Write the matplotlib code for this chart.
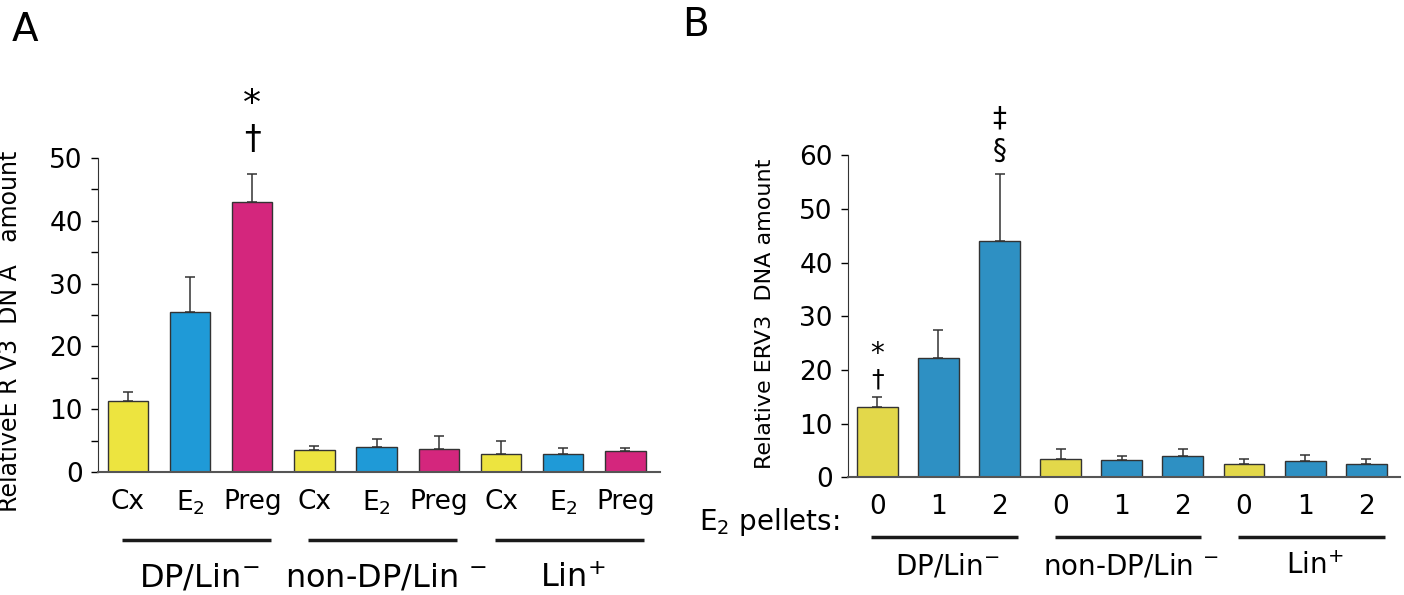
import numpy as np
import matplotlib.pyplot as plt
import matplotlib.transforms as mtransforms

# Panel A: relative ERV3 DNA amount by treatment
groups = ["DP/Lin$^{-}$", "non-DP/Lin $^{-}$", "Lin$^{+}$"]
a_labels = ["Cx", "E$_{2}$", "Preg"] * 3
a_values = [11.3, 25.5, 43.0, 3.5, 4.0, 3.7, 2.8, 2.8, 3.3]
a_err = [1.5, 5.5, 4.5, 0.7, 1.2, 2.0, 2.2, 1.0, 0.5]

# Panel B: E2 pellets
b_labels = ["0", "1", "2"] * 3
b_values = [13.0, 22.2, 44.0, 3.4, 3.2, 4.0, 2.4, 3.0, 2.4]
b_err = [2.0, 5.3, 12.5, 1.8, 0.8, 1.2, 0.9, 1.1, 0.9]

a_colors = ["#EDE43F", "#1F9AD7", "#D4267D"] * 3
b_colors = ["#E3D84A", "#2E90C3", "#2E90C3"] * 3

plt.rcParams['font.family'] = ['DejaVu Sans Condensed', 'Liberation Sans Narrow', 'DejaVu Sans']
plt.rcParams['mathtext.fontset'] = 'custom'
plt.rcParams['mathtext.rm'] = 'DejaVu Sans Condensed'

fig = plt.figure(figsize=(14.04, 5.95), dpi=100)
axA = fig.add_axes([0.0698, 0.2067, 0.400, 0.528])
axB = fig.add_axes([0.604, 0.198, 0.393, 0.541])


def draw_panel(ax, values, err, colors, labels, width, ymax, tick_step, minor):
    x = np.arange(len(values))
    ax.bar(x, values, width=width, color=colors, edgecolor="#333333", linewidth=1.0, zorder=2)
    ax.errorbar(x, values, yerr=[np.zeros(len(err)), err], fmt="none", ecolor="#333333",
                elinewidth=1.1, capsize=3.5, capthick=1.1, zorder=1)
    ax.set_ylim(0, ymax)
    ax.set_xlim(-0.48, len(values) - 0.45)
    ax.set_yticks(np.arange(0, ymax + 1, tick_step))
    if minor:
        ax.set_yticks(np.arange(5, ymax, 10), minor=True)
    ax.tick_params(axis="y", direction="out", length=5, width=1, labelsize=19, pad=6)
    ax.tick_params(axis="y", which="minor", direction="out", length=5, width=1)
    ax.set_xticks(x)
    ax.set_xticklabels(labels, fontsize=19)
    ax.tick_params(axis="x", length=0, pad=12)
    for s in ["top", "right"]:
        ax.spines[s].set_visible(False)
    ax.spines["left"].set_color("#333333")
    ax.spines["bottom"].set_color("#555555")
    ax.spines["bottom"].set_linewidth(1.5)


draw_panel(axA, a_values, a_err, a_colors, a_labels, 0.65, 50, 10, True)
draw_panel(axB, b_values, b_err, b_colors, b_labels, 0.67, 60, 10, False)

axA.set_ylabel("RelativeE R V3  DN A   amount", fontsize=17)
axA.yaxis.set_label_coords(-0.135, 0.449)
axB.set_ylabel("Relative ERV3  DNA amount", fontsize=16)
axB.yaxis.set_label_coords(-0.132, 0.506)

# group lines and labels
for ax, line_y, text_y, fs in [(axA, -0.217, -0.338, 23), (axB, -0.186, -0.277, 20)]:
    trans = mtransforms.blended_transform_factory(ax.transData, ax.transAxes)
    for g, name in enumerate(groups):
        ax.plot([3 * g - 0.1, 3 * g + 2.3], [line_y, line_y], color="#1a1a1a", lw=2.5,
                transform=trans, clip_on=False, solid_capstyle="butt")
        ax.text(3 * g + 1.15, text_y, name, fontsize=fs, ha="center", va="center",
                transform=trans)

# significance markers
axA.text(2, a_values[2] + a_err[2] + 5.4, "\u2020", fontsize=24, ha="center", va="center")
axA.text(2, a_values[2] + a_err[2] + 11.0, "*", fontsize=26, ha="center", va="center")
axB.text(0, b_values[0] + b_err[0] + 3.2, "\u2020", fontsize=18, ha="center", va="center")
axB.text(0, b_values[0] + b_err[0] + 8.0, "*", fontsize=20, ha="center", va="center")
axB.text(2, b_values[2] + b_err[2] + 4.4, "\u00a7", fontsize=20, ha="center", va="center")
axB.text(2, b_values[2] + b_err[2] + 10.4, "\u2021", fontsize=20, ha="center", va="center")

fig.text(0.598, 0.123, "E$_{2}$ pellets:", fontsize=20, ha="right", va="center")
fig.text(0.008, 0.95, "A", fontsize=28, ha="left", va="center")
fig.text(0.486, 0.958, "B", fontsize=28, ha="left", va="center")

fig.savefig("out.png", dpi=100)
